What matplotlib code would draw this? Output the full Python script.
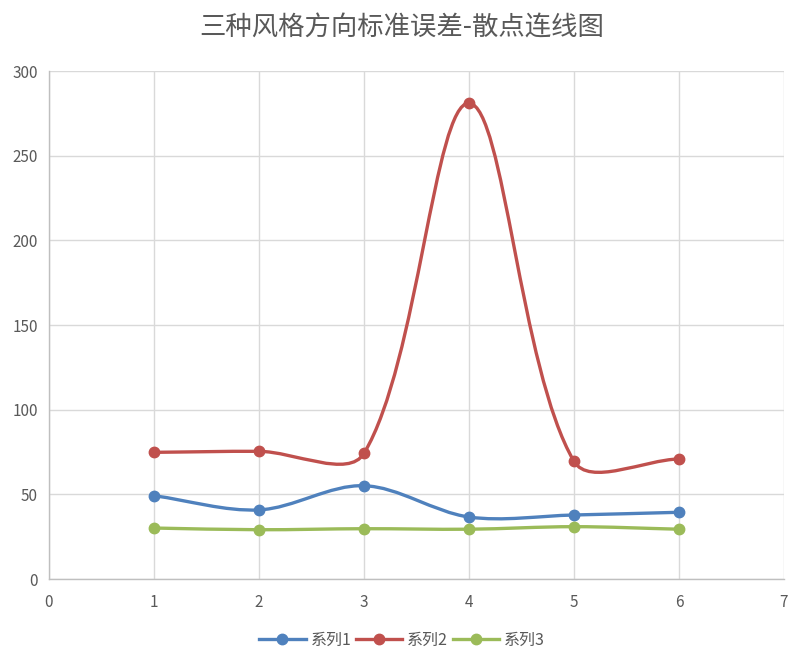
import numpy as np
import matplotlib
matplotlib.use("Agg")
import matplotlib.pyplot as plt
from matplotlib.path import Path
from matplotlib.patches import PathPatch
from matplotlib.lines import Line2D

plt.rcParams['font.family'] = ['Noto Sans CJK SC', 'DejaVu Sans']

title = "三种风格方向标准误差-散点连线图"
x_vals = [1, 2, 3, 4, 5, 6]
series_names = ["系列1", "系列2", "系列3"]
s1 = [49.2, 40.8, 55.1, 36.6, 37.8, 39.4]
s2 = [74.8, 75.4, 74.2, 281.0, 69.5, 70.9]
s3 = [30.1, 29.1, 29.7, 29.4, 30.9, 29.4]
colors = ["#4F81BD", "#C0504D", "#9BBB59"]

W, H = 804, 671
fig = plt.figure(figsize=(W / 100, H / 100), dpi=100)
ax = fig.add_axes([49 / W, 1 - 579 / H, (784 - 49) / W, (579 - 71) / H])
ax.set_xlim(0, 7)
ax.set_ylim(0, 300)
ax.set_xticks(range(0, 8))
ax.set_yticks(range(0, 301, 50))
grid_c = "#D9D9D9"
ax.grid(True, color=grid_c, linewidth=1)
ax.set_axisbelow(True)
for sp in ["top", "right"]:
    ax.spines[sp].set_visible(False)
for sp in ["left", "bottom"]:
    ax.spines[sp].set_color("#BFBFBF")
    ax.spines[sp].set_linewidth(1)
ax.tick_params(length=0, labelsize=11, colors="#595959", pad=8)
ax.tick_params(axis='x', pad=11)

fig.text(0.5, 1 - 28 / H, title, ha='center', va='center', fontsize=19,
         color="#595959")


def smooth_path(xs, ys, s=0.33):
    pts = ax.transData.transform(np.column_stack([xs, ys]))
    n = len(pts)
    verts = [pts[0]]
    codes = [Path.MOVETO]
    def arms(i):
        if i == 0:
            T = pts[1] - pts[0]
            return np.zeros(2), T * s
        if i == n - 1:
            T = pts[-1] - pts[-2]
            return T * s, np.zeros(2)
        T = pts[i + 1] - pts[i - 1]
        a = np.linalg.norm(pts[i] - pts[i - 1])
        b = np.linalg.norm(pts[i + 1] - pts[i])
        return T * s * a / (a + b), T * s * b / (a + b)
    for i in range(n - 1):
        _, out_i = arms(i)
        in_j, _ = arms(i + 1)
        verts += [pts[i] + out_i, pts[i + 1] - in_j, pts[i + 1]]
        codes += [Path.CURVE4] * 3
    verts = ax.transData.inverted().transform(np.array(verts))
    return Path(verts, codes)


handles = []
for ys, c, name in zip([s1, s2, s3], colors, series_names):
    p = smooth_path(np.array(x_vals, float), np.array(ys, float))
    ax.add_patch(PathPatch(p, facecolor='none', edgecolor=c, linewidth=2.4,
                           capstyle='round', zorder=3))
    ax.plot(x_vals, ys, linestyle='none', marker='o', markersize=7.5,
            color=c, zorder=4)
    handles.append(Line2D([], [], color=c, linewidth=2.4, marker='o',
                          markersize=7.5, label=name))

fig.legend(handles=handles, loc='center', bbox_to_anchor=(0.5, 1 - 640 / H),
           ncol=3, frameon=False, fontsize=11.5, handlelength=2.9,
           columnspacing=0.3, handletextpad=0.3, labelcolor="#595959")

fig.savefig("out.png", dpi=100)
